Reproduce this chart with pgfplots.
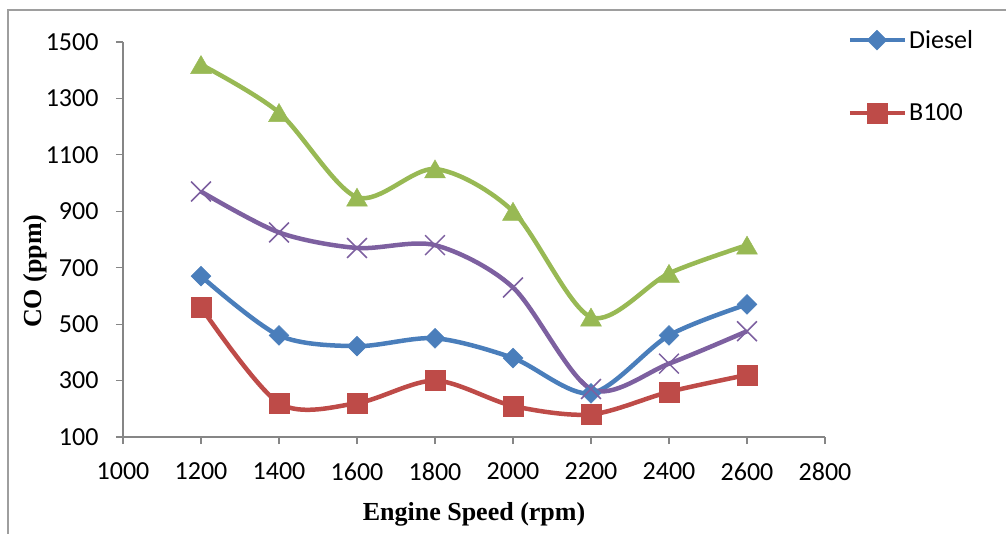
\documentclass[border=0pt]{standalone}
\usepackage{pgfplots}
\pgfplotsset{compat=1.18}
\usepackage{fontspec}
\setmainfont{Carlito}
\newfontfamily\labelfont{Liberation Serif}
\definecolor{cblue}{HTML}{4A7EBB}
\definecolor{cred}{HTML}{BE4B48}
\definecolor{cgreen}{HTML}{98B954}
\definecolor{cpurple}{HTML}{7D60A0}
\definecolor{cgrid}{HTML}{868686}
\begin{document}
\begin{tikzpicture}[x=1pt,y=1pt]
\useasboundingbox (0,0) rectangle (1006,-533);
\draw[cgrid!80, line width=1.2pt] (8,-540) -- (8,-10) -- (1010,-10);
\begin{axis}[
  at={(123pt,-437pt)}, anchor=south west,
  scale only axis, width=702pt, height=395pt,
  xmin=1000, xmax=2800, ymin=100, ymax=1500,
  xtick={1000,1200,...,2800}, ytick={100,300,...,1500},
  axis lines=left, axis line style={cgrid, line width=1.2pt, -},
  tick align=outside, major tick length=7pt,
  tick style={cgrid, line width=1.2pt},
  /pgf/number format/assume math mode=true,
  /pgf/number format/1000 sep={},
  tick label style={font=\fontsize{26}{30}\selectfont},
  xticklabel style={yshift=-15pt},
  yticklabel style={xshift=-14pt},
  xlabel={Engine Speed (rpm)}, ylabel={CO (ppm)},
  label style={font=\labelfont\bfseries\fontsize{26}{30}\selectfont},
  xlabel style={at={(axis description cs:0.5,-0.195)}, anchor=center},
  ylabel style={at={(axis description cs:-0.125,0.42)}, anchor=center},
  clip=false,
  legend style={draw=none, fill=none, at={(axis description cs:1.032,1.035)}, anchor=north west,
    font=\fontsize{26}{30}\selectfont, row sep=50pt, inner sep=0pt},
  legend cell align=left,
  legend image code/.code={\draw[mark repeat=2,mark phase=2] plot coordinates {(0pt,0pt) (27pt,0pt) (55pt,0pt)};},
  every axis plot/.append style={smooth, line width=4.5pt},
]
\addplot[cblue, mark=square*, mark size=7pt, mark options={rotate=45, line width=0.5pt}] coordinates {
(1200,670) (1400,460) (1600,422) (1800,450) (2000,380) (2200,255) (2400,460) (2600,570)};
\addlegendentry{Diesel}
\addplot[cred, mark=square*, mark size=10pt, mark options={line width=0.5pt}] coordinates {
(1200,560) (1400,220) (1600,220) (1800,300) (2000,210) (2200,180) (2400,260) (2600,320)};
\addlegendentry{B100}
\addplot[cpurple, mark=x, mark size=14pt, mark options={line width=1.5pt}] coordinates {
(1200,970) (1400,825) (1600,770) (1800,780) (2000,630) (2200,270) (2400,360) (2600,475)};
\addplot[cgreen, mark=triangle*, mark size=12pt, mark options={line width=0.5pt, yshift=-3pt}] coordinates {
(1200,1420) (1400,1250) (1600,950) (1800,1050) (2000,900) (2200,525) (2400,680) (2600,780)};
\end{axis}
\end{tikzpicture}
\end{document}
